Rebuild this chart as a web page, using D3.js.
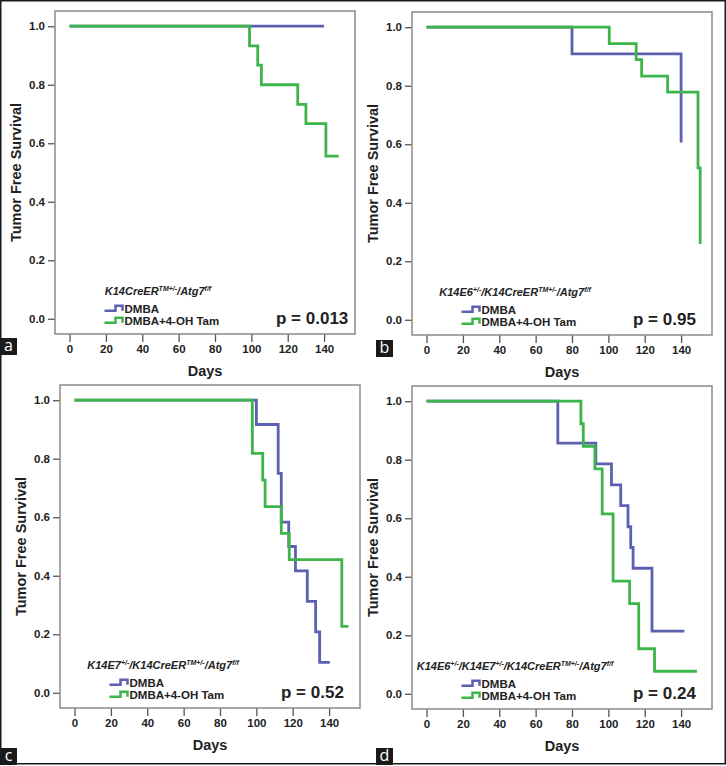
<!DOCTYPE html>
<html>
<head>
<meta charset="utf-8">
<script src="https://cdn.jsdelivr.net/npm/d3@7"></script>
<style>
  body { margin: 0; background: #fff; }
  svg { display: block; font-family: "Liberation Sans", Arial, sans-serif; }
  .tick text { font-weight: bold; font-size: 11.5px; fill: #222; }
  .tick line { stroke: #555; stroke-width: 1.3; }
</style>
</head>
<body>
<div id="chart"></div>
<script>
// values: [day, tumor free survival]
const panelLetters = ['a', 'b', 'c', 'd'];
const xTicks = [0, 20, 40, 60, 80, 100, 120, 140];
const yTicks = [0, 0.2, 0.4, 0.6, 0.8, 1.0];
const legendLabels = ['DMBA', 'DMBA+4-OH Tam'];
const pValues = ['p = 0.013', 'p = 0.95', 'p = 0.52', 'p = 0.24'];

// genotype captions: [text, isSuperscript]
const genotypeA = [['K14CreER', 0], ['TM+/-', 1], ['/Atg7', 0], ['f/f', 1]];
const genotypeB = [['K14E6', 0], ['+/-', 1], ['/K14CreER', 0], ['TM+/-', 1], ['/Atg7', 0], ['f/f', 1]];
const genotypeC = [['K14E7', 0], ['+/-', 1], ['/K14CreER', 0], ['TM+/-', 1], ['/Atg7', 0], ['f/f', 1]];
const genotypeD = [['K14E6', 0], ['+/-', 1], ['/K14E7', 0], ['+/-', 1], ['/K14CreER', 0], ['TM+/-', 1], ['/Atg7', 0], ['f/f', 1]];

const dmbaA = [[0, 1], [140, 1]];
const tamA = [[0, 1], [99, 0.933], [103.5, 0.867], [105.5, 0.8], [125.5, 0.733], [130, 0.667], [141, 0.556], [148, 0.556]];

const dmbaB = [[0, 1], [80, 0.909], [140, 0.606]];
const tamB = [[0, 1], [100.5, 0.944], [115.3, 0.889], [118.3, 0.833], [132.6, 0.778], [149.3, 0.519], [150.5, 0.259]];

const dmbaC = [[0, 1], [100, 0.917], [112, 0.75], [113.7, 0.583], [117.8, 0.5], [121.5, 0.417], [128, 0.3125], [132.6, 0.208], [134.8, 0.104], [140.4, 0.104]];
const tamC = [[0, 1], [97.8, 0.818], [103.5, 0.727], [104.8, 0.636], [113.7, 0.545], [118.1, 0.455], [147, 0.227], [150.6, 0.227]];

const dmbaD = [[0, 1], [72.2, 0.857], [93.1, 0.786], [101.7, 0.714], [106.8, 0.643], [110.8, 0.571], [112.3, 0.5], [113.6, 0.429], [124, 0.214], [141.8, 0.214]];
const tamD = [[0, 1], [84.9, 0.923], [86.2, 0.846], [92.6, 0.769], [96.6, 0.615], [102.6, 0.385], [111.7, 0.308], [116.7, 0.154], [125.4, 0.077], [148.7, 0.077]];

const panels = [
  { letter: panelLetters[0], genotype: genotypeA, p: pValues[0], dmba: dmbaA, tam: tamA, left: 55, top: 11, labelX: 0, labelY: 338 },
  { letter: panelLetters[1], genotype: genotypeB, p: pValues[1], dmba: dmbaB, tam: tamB, left: 412, top: 12, labelX: 376, labelY: 340 },
  { letter: panelLetters[2], genotype: genotypeC, p: pValues[2], dmba: dmbaC, tam: tamC, left: 60, top: 385, labelX: 0, labelY: 748 },
  { letter: panelLetters[3], genotype: genotypeD, p: pValues[3], dmba: dmbaD, tam: tamD, left: 412, top: 386, labelX: 376, labelY: 748 },
];

const W = 726, H = 766;
const boxW = 300, boxH = 323;
const colors = { dmba: '#5b60b0', tam: '#3cb54a' };

const svg = d3.select('#chart').append('svg')
  .attr('width', W)
  .attr('height', H);

// outer frame
svg.append('rect')
  .attr('x', 0.75).attr('y', 0.75)
  .attr('width', W - 1.5).attr('height', H - 3)
  .attr('fill', 'none')
  .attr('stroke', '#1a1a1a')
  .attr('stroke-width', 1.5);

const x = d3.scaleLinear().domain([-8, 157]).range([0, boxW]);
const y = d3.scaleLinear().domain([-0.052, 1.052]).range([boxH, 0]);

const line = d3.line()
  .x((d) => x(d[0]))
  .y((d) => y(d[1]))
  .curve(d3.curveStepAfter);

panels.forEach((p) => {
  const g = svg.append('g')
    .attr('transform', `translate(${p.left},${p.top})`);

  // Add the X Axis
  const xAxis = g.append('g')
    .attr('transform', `translate(0,${boxH})`)
    .call(d3.axisBottom(x).tickValues(xTicks).tickSize(8).tickPadding(3));
  xAxis.select('.domain').remove();

  // Add the Y Axis
  const yAxis = g.append('g')
    .call(d3.axisLeft(y).tickValues(yTicks).tickSize(7).tickPadding(3).tickFormat(d3.format('.1f')));
  yAxis.select('.domain').remove();

  g.append('rect')
    .attr('width', boxW).attr('height', boxH)
    .attr('fill', 'none')
    .attr('stroke', '#8a8a8a')
    .attr('stroke-width', 1.5);

  g.append('text')
    .attr('transform', `translate(-39,${boxH / 2}) rotate(-90)`)
    .attr('text-anchor', 'middle')
    .attr('dy', '0.35em')
    .attr('font-weight', 'bold')
    .attr('font-size', 14.5)
    .attr('fill', '#222')
    .text('Tumor Free Survival');

  g.append('text')
    .attr('x', boxW / 2)
    .attr('y', boxH + 42)
    .attr('text-anchor', 'middle')
    .attr('font-weight', 'bold')
    .attr('font-size', 14.5)
    .attr('fill', '#222')
    .text('Days');

  g.append('path')
    .datum(p.dmba)
    .attr('d', line)
    .attr('fill', 'none')
    .attr('stroke', colors.dmba)
    .attr('stroke-width', 2.8);

  g.append('path')
    .datum(p.tam)
    .attr('d', line)
    .attr('fill', 'none')
    .attr('stroke', colors.tam)
    .attr('stroke-width', 2.8);

  // legend block
  const legendCx = boxW / 2 - 47;
  const y0 = y(0);
  const geno = g.append('text')
    .attr('x', legendCx)
    .attr('y', y0 - 24)
    .attr('text-anchor', 'middle')
    .attr('font-weight', 'bold')
    .attr('font-style', 'italic')
    .attr('font-size', 11)
    .attr('fill', '#222');
  geno.selectAll('tspan')
    .data(p.genotype)
    .join('tspan')
    .attr('font-size', (d) => (d[1] ? 7 : 11))
    .attr('baseline-shift', (d) => (d[1] ? '4' : null))
    .text((d) => d[0]);

  const blockW = 107;
  const lx = legendCx - blockW / 2;
  [['dmba', y0 - 6], ['tam', y0 + 6]].forEach(([key, by], i) => {
    g.append('path')
      .attr('d', `M${lx},${by - 2}H${lx + 11}V${by - 7}H${lx + 18}V${by - 2}`)
      .attr('fill', 'none')
      .attr('stroke', colors[key])
      .attr('stroke-width', 2.5);
    g.append('text')
      .attr('x', lx + 20)
      .attr('y', by)
      .attr('font-weight', 'bold')
      .attr('font-size', 11.5)
      .attr('fill', '#222')
      .text(legendLabels[i]);
  });

  g.append('text')
    .attr('x', 221)
    .attr('y', y0 + 5)
    .attr('font-weight', 'bold')
    .attr('font-size', 17)
    .attr('fill', '#222')
    .text(p.p);

  // panel letter
  svg.append('rect')
    .attr('x', p.labelX).attr('y', p.labelY)
    .attr('width', 17).attr('height', 17)
    .attr('fill', '#1a1a1a');
  svg.append('text')
    .attr('x', p.labelX + 8.5)
    .attr('y', p.labelY + 13)
    .attr('text-anchor', 'middle')
    .attr('font-family', '"Open Sans", sans-serif')
    .attr('font-size', 16)
    .attr('fill', '#fff')
    .text(p.letter);
});
</script>
</body>
</html>
